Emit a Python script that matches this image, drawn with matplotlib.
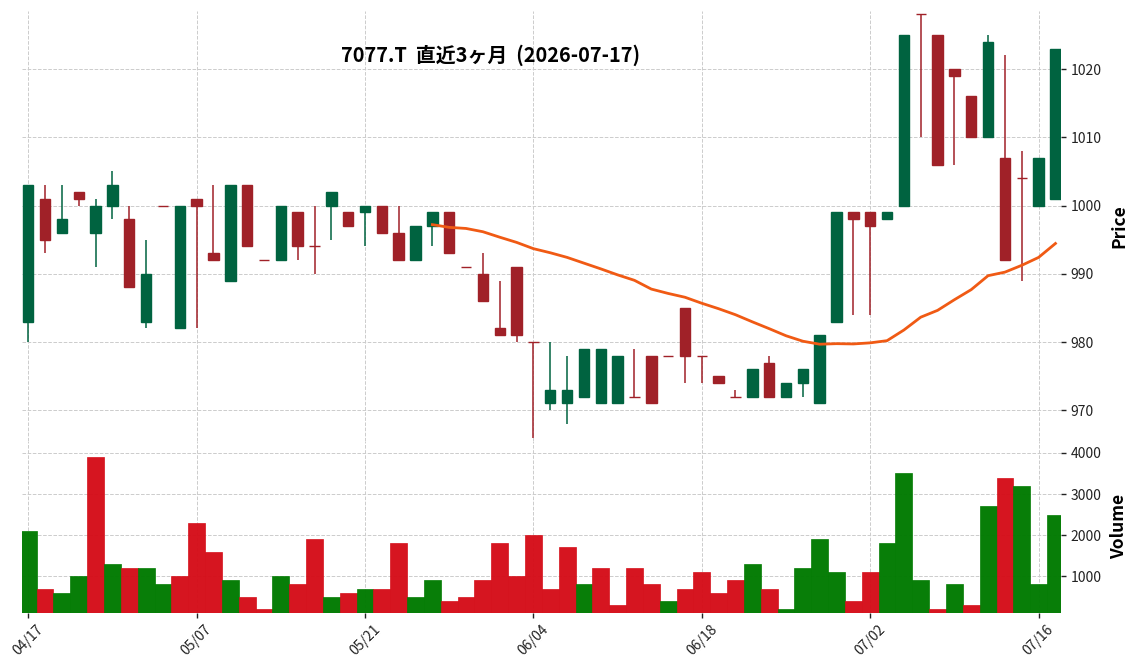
import matplotlib
matplotlib.use("Agg")
import matplotlib.pyplot as plt
import numpy as np
import pandas as pd

plt.rcParams['font.family'] = ['Noto Sans CJK JP', 'DejaVu Sans']

# trading days (JP holidays removed)
holidays = ['2026-04-29', '2026-05-04', '2026-05-05', '2026-05-06']
dates = pd.bdate_range('2026-04-17', '2026-07-17')
dates = dates[~dates.isin(pd.to_datetime(holidays))]

opens = [983, 1001, 996, 1002, 996, 1000, 998, 983, 1000, 982,
         1001, 993, 989, 1003, 992, 992, 999, 994, 1000, 999,
         999, 1000, 996, 992, 997, 999, 991, 990, 982, 991,
         980, 971, 971, 972, 971, 971, 972, 978, 978, 985,
         978, 975, 972, 972, 977, 972, 974, 971, 983, 999,
         999, 998, 1000, 1028, 1025, 1020, 1016, 1010, 1007, 1004,
         1000, 1001]
highs = [1003, 1003, 1003, 1002, 1001, 1005, 1000, 995, 1000, 1000,
         1001, 1003, 1003, 1003, 992, 1000, 999, 1000, 1002, 999,
         1000, 1000, 1000, 997, 999, 999, 991, 993, 989, 991,
         980, 980, 978, 979, 979, 978, 979, 978, 978, 985,
         978, 975, 973, 976, 978, 974, 976, 981, 999, 999,
         999, 999, 1025, 1028, 1025, 1020, 1016, 1025, 1022, 1008,
         1007, 1023]
lows = [980, 993, 996, 1000, 991, 998, 988, 982, 1000, 982,
        982, 992, 989, 994, 992, 992, 992, 990, 995, 997,
        994, 996, 992, 992, 994, 993, 991, 986, 981, 980,
        966, 970, 968, 972, 971, 971, 972, 971, 978, 974,
        974, 974, 972, 972, 972, 972, 972, 971, 983, 984,
        984, 998, 1000, 1010, 1006, 1006, 1010, 1010, 992, 989,
        1000, 1001]
closes = [1003, 995, 998, 1001, 1000, 1003, 988, 990, 1000, 1000,
          1000, 992, 1003, 994, 992, 1000, 994, 994, 1002, 997,
          1000, 996, 992, 997, 999, 993, 991, 986, 981, 981,
          980, 973, 973, 979, 979, 978, 972, 971, 978, 978,
          978, 974, 972, 976, 972, 974, 976, 981, 999, 998,
          997, 999, 1025, 1028, 1006, 1019, 1010, 1024, 992, 1004,
          1007, 1023]
volumes = [2100, 700, 600, 1000, 3900, 1300, 1200, 1200, 800, 1000,
           2300, 1600, 900, 500, 200, 1000, 800, 1900, 500, 600,
           700, 700, 1800, 500, 900, 400, 500, 900, 1800, 1000,
           2000, 700, 1700, 800, 1200, 300, 1200, 800, 400, 700,
           1100, 600, 900, 1300, 700, 200, 1200, 1900, 1100, 400,
           1100, 1800, 3500, 900, 200, 800, 300, 2700, 3400, 3200,
           800, 2500]

mav_window = 25

up_c, dn_c = '#006340', '#a02128'
vup_c, vdn_c = '#007a00', '#d50d18'

o = np.array(opens, float)
c = np.array(closes, float)
x = np.arange(len(dates))
ccols = [up_c if a < b else dn_c for a, b in zip(o, c)]
vcols = [vup_c if o[0] < c[0] else vdn_c] + \
        [vup_c if p < q else vdn_c for p, q in zip(c[:-1], c[1:])]
mav = pd.Series(c).rolling(mav_window).mean()

fig = plt.figure(figsize=(11.37, 6.70), dpi=100)
L, R = 22 / 1137, 1061 / 1137
ax = fig.add_axes([L, 1 - 441 / 670, R - L, (441 - 11) / 670])
axv = fig.add_axes([L, 1 - 612.7 / 670, R - L, (612.7 - 441) / 670], sharex=ax)

for a in (ax, axv):
    a.set_facecolor('w')
    for s in a.spines.values():
        s.set_visible(False)
    a.grid(True, color='#cccccc', linestyle='--', linewidth=0.7)
    a.set_axisbelow(True)
    a.yaxis.tick_right()
    a.yaxis.set_label_position('right')
    a.tick_params(labelsize=10, length=3.5, width=1, colors='#222222')

# candles
ax.vlines(x, lows, highs, colors=ccols, linewidth=1.1, zorder=2)
ax.bar(x, np.abs(c - o), width=0.62, bottom=np.minimum(o, c), color=ccols,
       edgecolor=ccols, linewidth=1.0, zorder=3)
ax.plot(x, mav, color='#f05a14', linewidth=2.0, zorder=4)
ax.set_ylim(965.5, 1028.5)
ax.set_yticks([970, 980, 990, 1000, 1010, 1020])
ax.set_ylabel('Price', fontsize=12.5, fontweight='semibold', labelpad=6)
ax.tick_params(axis='x', which='both', bottom=False, labelbottom=False)

# volume
axv.bar(x, volumes, width=1.0, color=vcols, edgecolor=vcols, linewidth=0.5, alpha=0.97)
axv.set_ylim(112, 4290)
axv.set_yticks([1000, 2000, 3000, 4000])
axv.set_ylabel('Volume', fontsize=12.5, fontweight='semibold', labelpad=6)

ticks = x[::10]
axv.set_xticks(ticks)
axv.set_xticklabels([dates[i].strftime('%m/%d') for i in ticks], rotation=45)
axv.set_xlim(-0.37, len(x) - 1 + 0.33)

fig.text(491 / 1137, 1 - 55 / 670, '7077.T  直近3ヶ月  (2026-07-17)',
         ha='center', va='center', fontsize=14.3, fontweight='bold')

fig.savefig('out.png', dpi=100)
